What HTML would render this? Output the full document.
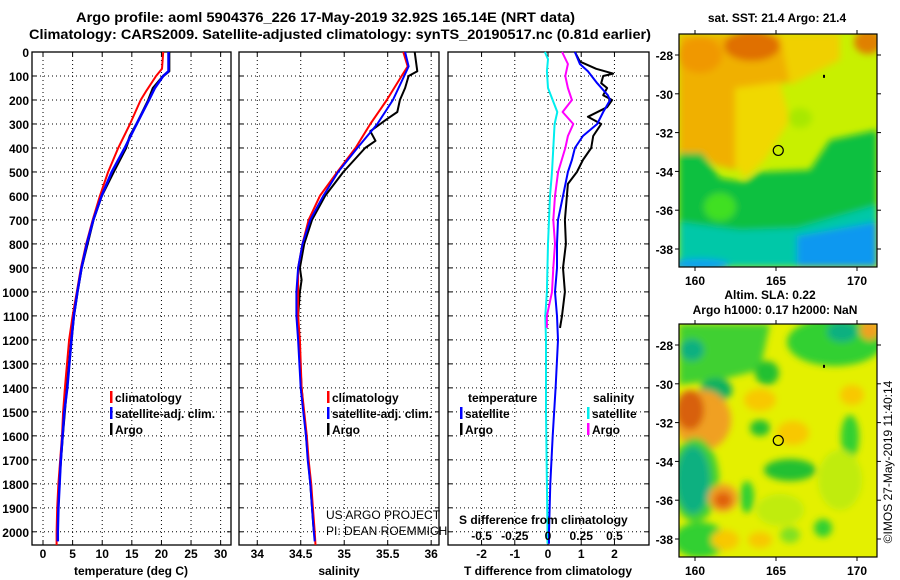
<!DOCTYPE html>
<html><head><meta charset="utf-8">
<style>
html,body{margin:0;padding:0;background:#fff;}
svg{display:block;font-family:"Liberation Sans",Arial,sans-serif;}
.tk{font-size:12px;font-weight:bold;fill:#000;}
.lg{font-size:12px;font-weight:bold;fill:#000;}
</style></head>
<body>
<svg id="fig" width="900" height="580" viewBox="0 0 900 580" xmlns="http://www.w3.org/2000/svg">
<rect width="900" height="580" fill="#fff"/>
<text x="76" y="22" font-size="14" font-weight="bold" textLength="499" lengthAdjust="spacingAndGlyphs">Argo profile: aoml 5904376_226 17-May-2019 32.92S 165.14E (NRT data)</text>
<text x="29" y="39" font-size="14" font-weight="bold" textLength="622" lengthAdjust="spacingAndGlyphs">Climatology: CARS2009. Satellite-adjusted climatology: synTS_20190517.nc (0.81d earlier)</text>
<g id="panels"></g>
<g id="maps"></g>
<text transform="translate(892,462) rotate(-90)" text-anchor="middle" font-size="12">©IMOS 27-May-2019 11:40:14</text>
</svg>
<script>
// ---------- data ----------
const depthTicks=[0,100,200,300,400,500,600,700,800,900,1000,1100,1200,1300,1400,1500,1600,1700,1800,1900,2000];
const tempTicks=[0,5,10,15,20,25,30];
const salTicks=[34,34.5,35,35.5,36];
const salTickLabels=["34","34.5","35","35.5","36"];
const tdiffTicks=[-2,-1,0,1,2];
const sdiffTicks=[-0.5,-0.25,0,0.25,0.5];
const sdiffTickLabels=["-0.5","-0.25","0","0.25","0.5"];

const tClimDepth=[0,70,100,160,200,300,400,500,600,700,800,900,1000,1100,1200,1400,1500,1600,1700,1800,1900,2000,2055];
const tClim=[20.3,20.1,19.1,17.5,16.5,14.7,12.7,11.0,9.6,8.4,7.3,6.4,5.7,5.0,4.4,3.7,3.4,3.2,2.9,2.6,2.4,2.3,2.3];
const tSatDepth=[0,80,100,150,200,300,400,500,600,700,800,900,1000,1100,1200,1400,1500,1700,1900,2000,2040];
const tSat=[21.2,21.2,20.3,18.9,17.9,15.8,13.8,11.6,9.9,8.5,7.4,6.5,5.8,5.2,4.8,4.1,3.6,3.0,2.6,2.5,2.5];
const tArgoDepth=[0,80,100,150,200,300,350,400,500,600,700,800,900,1000,1100,1200,1400,1600,1800,2000];
const tArgo=[21.3,21.3,20.3,18.6,17.8,15.8,14.7,14.0,11.9,9.9,8.5,7.5,6.5,5.8,5.2,4.8,4.0,3.3,2.7,2.4];

const sClimDepth=[0,60,100,200,300,400,500,600,700,800,900,1000,1100,1200,1400,1500,1600,1700,1800,1900,2000,2055];
const sClim=[35.68,35.73,35.66,35.49,35.30,35.13,34.92,34.72,34.59,34.52,34.47,34.47,34.47,34.49,34.51,34.54,34.57,34.59,34.62,34.64,34.66,34.67];
const sSatDepth=[0,60,100,200,300,400,500,600,700,800,900,1000,1100,1200,1400,1500,1600,1700,1800,1900,2000,2040];
const sSat=[35.70,35.74,35.69,35.56,35.38,35.15,34.93,34.76,34.61,34.52,34.47,34.45,34.45,34.47,34.50,34.53,34.56,34.58,34.61,34.63,34.65,34.66];
const sArgoDepth=[0,80,100,150,200,250,280,330,370,400,500,600,700,800,900,950,1000,1100,1200,1400,1600,1800,2000];
const sArgo=[35.81,35.84,35.74,35.70,35.64,35.61,35.49,35.30,35.36,35.24,34.99,34.78,34.63,34.54,34.49,34.51,34.49,34.47,34.48,34.51,34.56,34.61,34.65];

const dtSatDepth=[0,50,80,130,180,200,250,300,350,400,450,500,600,700,800,900,1000,1100,1200,1400,1600,1800,2000,2050];
const dtSat=[0.81,0.96,1.2,1.48,1.8,1.87,1.66,1.48,1.05,0.81,0.72,0.6,0.45,0.3,0.27,0.27,0.21,0.27,0.3,0.23,0.14,0.07,0.03,0.03];
const dtArgoDepth=[0,40,70,90,100,130,150,180,200,230,270,300,350,400,450,500,550,600,700,800,900,1000,1100,1150];
const dtArgo=[0.81,0.96,1.45,1.96,1.66,1.6,1.78,1.66,1.93,1.78,1.2,1.6,1.36,1.3,1.05,0.87,0.6,0.57,0.51,0.54,0.45,0.51,0.42,0.36];
const dsSatDepth=[0,30,80,150,250,300,400,500,600,800,1000,1100,1200,1500,1800,2000,2050];
const dsSat=[-0.023,0,-0.008,0,0.07,0.05,0.04,0.03,0.015,0,-0.008,-0.02,-0.015,-0.015,-0.008,-0.004,-0.004];
const dsArgoDepth=[0,50,100,150,200,250,300,350,400,500,600,700,800,900,1000,1100,1150];
const dsArgo=[0.106,0.15,0.13,0.15,0.18,0.11,0.19,0.15,0.13,0.076,0.053,0.04,0.053,0.04,0.03,-0.008,-0.008];

// ---------- helpers ----------
const NS="http://www.w3.org/2000/svg";
const yTop=52, yBot=545, dMax=2055;
function yScale(d){return yTop+(d/dMax)*(yBot-yTop);}
function mk(tag,attrs,parent){const e=document.createElementNS(NS,tag);for(const k in attrs)e.setAttribute(k,attrs[k]);parent.appendChild(e);return e;}
const P=document.getElementById('panels');

const panels=[
 {name:'temperature-panel',x0:32,x1:231,min:-1.86,max:31.75},
 {name:'salinity-panel',x0:239,x1:439,min:33.79,max:36.09},
 {name:'difference-panel',x0:448,x1:649,min:-3.01,max:3.04}
];
function xs(p,v){return p.x0+(v-p.min)/(p.max-p.min)*(p.x1-p.x0);}
function xsS(p,v){return xs(p,v*4);}

function line(parent,name,depths,vals,color,w,fx){
  let d='';
  for(let i=0;i<vals.length;i++){d+=(i?'L':'M')+fx(vals[i]).toFixed(1)+','+yScale(depths[i]).toFixed(1);}
  const e=mk('path',{d:d,fill:'none',stroke:color,'stroke-width':w,'stroke-linejoin':'round'},parent);
  
  
}

panels.forEach((p,pi)=>{
  const g=mk('g',{},P);
  
  
  const ticks=pi==0?tempTicks:pi==1?salTicks:tdiffTicks;
  depthTicks.forEach(d=>{const y=yScale(d);mk('line',{x1:p.x0,x2:p.x1,y1:y,y2:y,stroke:'#000','stroke-width':1,'stroke-dasharray':'1,3'},g);
    mk('line',{x1:p.x0,x2:p.x0+4,y1:y,y2:y,stroke:'#000'},g);mk('line',{x1:p.x1-4,x2:p.x1,y1:y,y2:y,stroke:'#000'},g);});
  ticks.forEach((t,i)=>{const x=xs(p,t);
    mk('line',{x1:x,x2:x,y1:yTop,y2:yBot,stroke:'#000','stroke-width':1,'stroke-dasharray':'1,3'},g);
    mk('line',{x1:x,x2:x,y1:yBot-4,y2:yBot,stroke:'#000'},g);mk('line',{x1:x,x2:x,y1:yTop,y2:yTop+4,stroke:'#000'},g);
    const tx=mk('text',{x:x,y:558,'text-anchor':'middle',class:'tk'},g);
    tx.textContent=pi==1?salTickLabels[i]:String(t);
    
    
  });
  mk('rect',{x:p.x0,y:yTop,width:p.x1-p.x0,height:yBot-yTop,fill:'none',stroke:'#000','stroke-width':1.3},g);
});
depthTicks.forEach(d=>{const t=mk('text',{x:29,y:yScale(d)+5,'text-anchor':'end',class:'tk'},P);t.textContent=d;
  
  });

const [pT,pS,pD]=panels;
line(P,'temp-argo-line',tArgoDepth,tArgo,'#000',2.5,v=>xs(pT,v));
line(P,'temp-climatology-line',tClimDepth,tClim,'#f00',2,v=>xs(pT,v));
line(P,'temp-satellite-line',tSatDepth,tSat,'#00f',2.5,v=>xs(pT,v));
line(P,'sal-argo-line',sArgoDepth,sArgo,'#000',2,v=>xs(pS,v));
line(P,'sal-climatology-line',sClimDepth,sClim,'#f00',2,v=>xs(pS,v));
line(P,'sal-satellite-line',sSatDepth,sSat,'#00f',2,v=>xs(pS,v));
line(P,'sdiff-satellite-line',dsSatDepth,dsSat,'#0ee',2,v=>xsS(pD,v));
line(P,'sdiff-argo-line',dsArgoDepth,dsArgo,'#f0f',2,v=>xsS(pD,v));
line(P,'tdiff-argo-line',dtArgoDepth,dtArgo,'#000',2,v=>xs(pD,v));
line(P,'tdiff-satellite-line',dtSatDepth,dtSat,'#00f',2,v=>xs(pD,v));

sdiffTicks.forEach((s,i)=>{const t=mk('text',{x:xsS(pD,s),y:540,'text-anchor':'middle',class:'tk'},P);t.textContent=sdiffTickLabels[i];
  
  });

function txt(x,y,s,name,extra){const t=mk('text',Object.assign({x:x,y:y,class:'lg'},extra||{}),P);t.textContent=s;
  
  return t;}
function legend(x,y,color,s,name){mk('rect',{x:x,y:y-11,width:2.5,height:12,fill:color},P);txt(x+5,y,s,name);}
legend(110,402,'#f00','climatology','temp-legend-climatology');
legend(110,418,'#00f','satellite-adj. clim.','temp-legend-satellite');
legend(110,434,'#000','Argo','temp-legend-argo');
legend(327,402,'#f00','climatology','sal-legend-climatology');
legend(327,418,'#00f','satellite-adj. clim.','sal-legend-satellite');
legend(327,434,'#000','Argo','sal-legend-argo');
txt(468,402,'temperature','diff-legend-temperature-title');
txt(593,402,'salinity','diff-legend-salinity-title');
legend(460,418,'#00f','satellite','diff-legend-t-satellite');
legend(460,434,'#000','Argo','diff-legend-t-argo');
legend(587,418,'#0ee','satellite','diff-legend-s-satellite');
legend(587,434,'#f0f','Argo','diff-legend-s-argo');
txt(326,519,'US ARGO PROJECT','credit-project',{style:'font-weight:normal;font-size:12px'});
txt(326,535,'PI: DEAN ROEMMICH','credit-pi',{style:'font-weight:normal;font-size:12px'});
txt(459,524,'S difference from climatology','s-diff-axis-title');
txt(131,575,'temperature (deg C)','x-axis-title-temperature',{'text-anchor':'middle'});
txt(339,575,'salinity','x-axis-title-salinity',{'text-anchor':'middle'});
txt(548,575,'T difference from climatology','x-axis-title-tdiff',{'text-anchor':'middle'});

// ---------- maps ----------
const M=document.getElementById('maps');
const latTicks=[-28,-30,-32,-34,-36,-38];
const lonTicks=[160,165,170];
const mapX0=679,mapX1=877;
function lonX(l){return 695+(l-160)*16.2;}
const sstBlobs=[
 ['poly','679,34 800,34 795,80 760,90 745,140 735,170 715,165 700,153 679,153','#f0b000'],
 ['poly','735,88 780,82 790,120 765,160 745,178 735,165','#f0d800'],
 ['poly','780,34 840,34 840,60 790,85','#f0d000'],
 ['ell',752,46,28,15,'#e07000'],['ell',700,55,22,18,'#f09800'],['ell',868,42,14,12,'#e08000'],
 ['poly','679,153 702,153 720,178 745,182 760,172 810,170 830,140 877,130 877,267 679,267','#10c040'],
 ['ell',720,207,16,14,'#40e020'],['ell',800,118,12,10,'#a8e800'],
 ['poly','679,222 740,230 797,228 877,205 877,267 679,267','#00c8a8'],
 ['poly','797,236 877,222 877,267 797,267','#1098f0'],['ell',700,265,30,6,'#10a0f0']
];
const slaBlobs=[
 ['poly','679,324 770,324 760,370 720,380 679,385','#40d030'],
 ['ell',692,350,12,11,'#10b080'],
 ['ell',716,390,16,12,'#10b060'],
 ['ell',703,420,28,30,'#f0a020'],['ell',690,410,14,20,'#d86010'],
 ['ell',695,480,24,42,'#40d030'],['ell',693,480,17,34,'#10b080'],
 ['ell',723,498,15,14,'#f0a020'],['ell',723,500,9,8,'#e06010'],
 ['ell',767,373,12,12,'#20c030'],['ell',760,428,10,8,'#20c030'],
 ['ell',790,470,26,11,'#20c030'],['ell',835,342,48,24,'#30d030'],['ell',842,332,15,10,'#10b080'],
 ['ell',870,330,10,10,'#f0a020'],['ell',850,437,9,22,'#30d030'],['ell',747,497,7,16,'#30d030'],
 ['ell',700,540,26,18,'#30d030'],['ell',823,528,9,9,'#30d030'],['ell',790,535,10,8,'#80e020'],
 ['ell',840,480,22,30,'#c0ec10'],['ell',780,510,24,16,'#c0ec10'],
 ['ell',793,433,16,12,'#f8c800'],['ell',760,400,16,11,'#f8c800'],['ell',852,395,12,10,'#f8c800'],
 ['ell',725,540,14,10,'#f8c800'],['ell',760,540,12,8,'#f8c800']
];
const mapDefs=[
 {name:'sst-map',y0:34,y1:267,base:'#c8f000',blobs:sstBlobs,titles:[['sat. SST: 21.4 Argo: 21.4',777,22]]},
 {name:'sla-map',y0:324,y1:557,base:'#e4f000',blobs:slaBlobs,titles:[['Altim. SLA: 0.22',770,299],['Argo h1000: 0.17 h2000: NaN',775,314]]}
];
const defs=mk('defs',{},M);
const f=mk('filter',{id:'bl',x:'-20%',y:'-20%',width:'140%',height:'140%'},defs);
mk('feGaussianBlur',{stdDeviation:3.5},f);
mapDefs.forEach((m,mi)=>{
  const cp=mk('clipPath',{id:'cp'+mi},defs);mk('rect',{x:mapX0,y:m.y0,width:mapX1-mapX0,height:m.y1-m.y0},cp);
  const g=mk('g',{'clip-path':'url(#cp'+mi+')'},M);
  
  
  mk('rect',{x:mapX0,y:m.y0,width:mapX1-mapX0,height:m.y1-m.y0,fill:m.base},g);
  const bg=mk('g',{filter:'url(#bl)'},g);
  m.blobs.forEach(b=>{if(b[0]=='poly')mk('polygon',{points:b[1],fill:b[2]},bg);else mk('ellipse',{cx:b[1],cy:b[2],rx:b[3],ry:b[4],fill:b[5]},bg);});
  const latY=l=>m.y0+21+(-28-l)*19.4;
  mk('rect',{x:mapX0,y:m.y0,width:mapX1-mapX0,height:m.y1-m.y0,fill:'none',stroke:'#000','stroke-width':1.2},M);
  latTicks.forEach(l=>{const y=latY(l);mk('line',{x1:mapX0-4,x2:mapX0,y1:y,y2:y,stroke:'#000'},M);mk('line',{x1:mapX1,x2:mapX1+4,y1:y,y2:y,stroke:'#000'},M);
    const t=mk('text',{x:mapX0-6,y:y+5,'text-anchor':'end',class:'tk'},M);t.textContent=l;
    
    });
  lonTicks.forEach(l=>{const x=lonX(l);mk('line',{x1:x,x2:x,y1:m.y1,y2:m.y1+4,stroke:'#000'},M);mk('line',{x1:x,x2:x,y1:m.y0-4,y2:m.y0,stroke:'#000'},M);
    const t=mk('text',{x:x,y:m.y1+18,'text-anchor':'middle',class:'tk'},M);t.textContent=l;
    
    });
  const c=mk('circle',{cx:lonX(165.14),cy:latY(-32.92),r:5,fill:'none',stroke:'#000','stroke-width':1.2},M);
  
  
  mk('rect',{x:823,y:latY(-29.1)-1.5,width:2,height:3,fill:'#000'},M);
  m.titles.forEach(tt=>{const t=mk('text',{x:tt[1],y:tt[2],'text-anchor':'middle',class:'lg'},M);t.textContent=tt[0];
    
    });
});
</script>
</body></html>
